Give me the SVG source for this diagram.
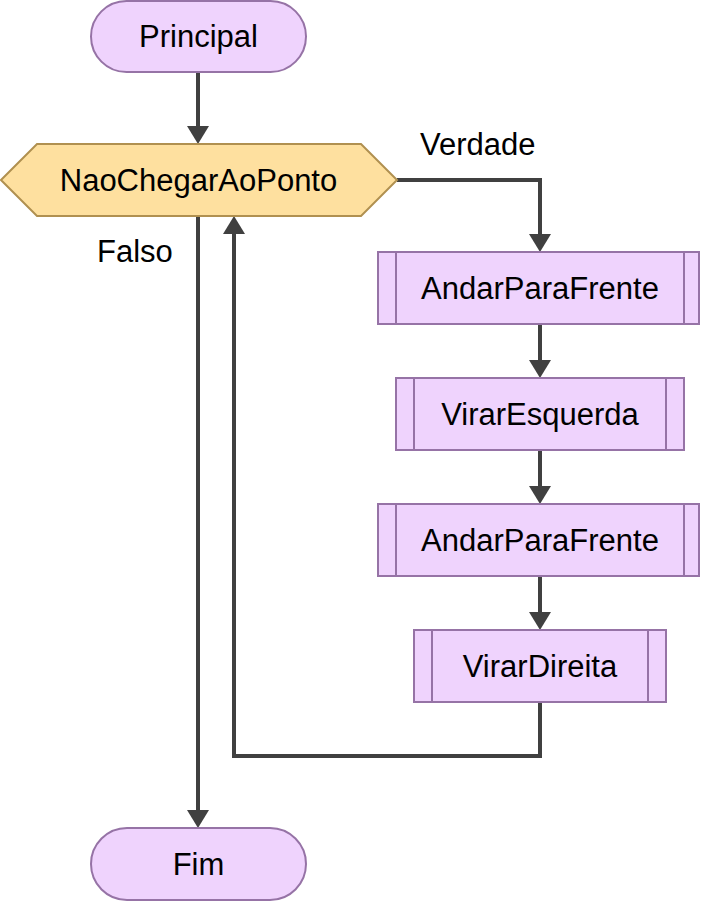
<svg xmlns="http://www.w3.org/2000/svg" width="703" height="901" viewBox="0 0 703 901">
<defs>
<style>
.term{fill:#efd3fd;stroke:#9673a6;stroke-width:2}
.proc{fill:#efd3fd;stroke:#9673a6;stroke-width:2}
.dec{fill:#fee09f;stroke:#b09050;stroke-width:2}
.t{font-family:"Liberation Sans",Arial,sans-serif;font-size:31px;fill:#000;text-anchor:middle}
.lbl{font-family:"Liberation Sans",Arial,sans-serif;font-size:31px;fill:#000}
.e{fill:none;stroke:#404040;stroke-width:4}
.a{fill:#404040}
</style>
</defs>
<g id="edges">
<path class="e" d="M198,72 V132"/><path class="a" d="M187,126 L209,126 L198,144 Z"/>
<path class="e" d="M397,180 H540 V240"/><path class="a" d="M529,234 L551,234 L540,252 Z"/>
<path class="e" d="M540,324 V366"/><path class="a" d="M529,360 L551,360 L540,378 Z"/>
<path class="e" d="M540,450 V492"/><path class="a" d="M529,486 L551,486 L540,504 Z"/>
<path class="e" d="M540,576 V618"/><path class="a" d="M529,612 L551,612 L540,630 Z"/>
<path class="e" d="M540,702 V756 H234 V228"/><path class="a" d="M223,234 L245,234 L234,216 Z"/>
<path class="e" d="M198,216 V816"/><path class="a" d="M187,810 L209,810 L198,828 Z"/>
<text class="lbl" x="420" y="155">Verdade</text>
<text class="lbl" x="97" y="262">Falso</text>
</g>
<g id="principal">
<rect class="term" x="91" y="1" width="215" height="71" rx="35.5"/>
<text class="t" x="198.5" y="47">Principal</text>
</g>
<g id="decisao">
<polygon class="dec" points="1,180 37,144 361,144 397,180 361,216 37,216"/>
<text class="t" x="198.5" y="191">NaoChegarAoPonto</text>
</g>
<g id="andar1">
<rect class="proc" x="378" y="252" width="321" height="72"/>
<path class="proc" d="M396,252 V324 M684,252 V324"/>
<text class="t" x="540" y="299">AndarParaFrente</text>
</g>
<g id="virarEsquerda">
<rect class="proc" x="396" y="378" width="288" height="72"/>
<path class="proc" d="M414,378 V450 M666,378 V450"/>
<text class="t" x="540" y="425">VirarEsquerda</text>
</g>
<g id="andar2">
<rect class="proc" x="378" y="504" width="321" height="72"/>
<path class="proc" d="M396,504 V576 M684,504 V576"/>
<text class="t" x="540" y="551">AndarParaFrente</text>
</g>
<g id="virarDireita">
<rect class="proc" x="414" y="630" width="252" height="72"/>
<path class="proc" d="M432,630 V702 M648,630 V702"/>
<text class="t" x="540" y="677">VirarDireita</text>
</g>
<g id="fim">
<rect class="term" x="91" y="828" width="215" height="72" rx="36"/>
<text class="t" x="198.5" y="875">Fim</text>
</g>
</svg>
